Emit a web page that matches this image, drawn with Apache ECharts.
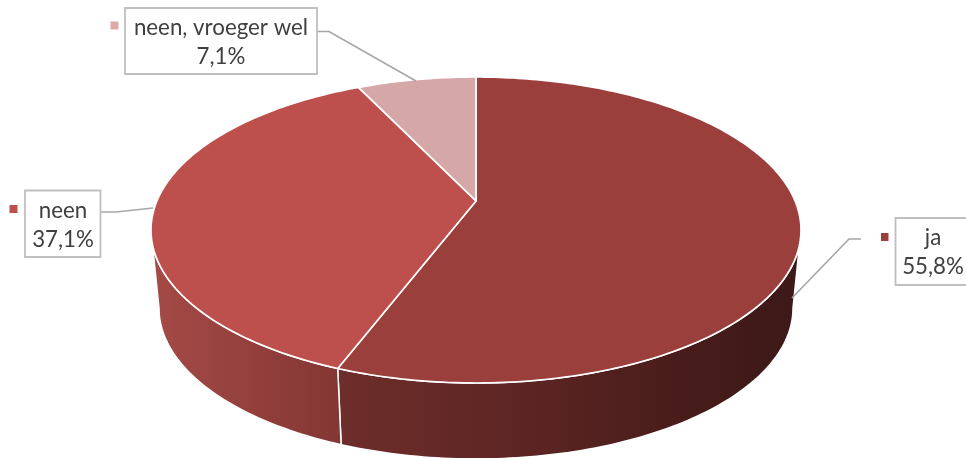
<!DOCTYPE html>
<html>
<head>
<meta charset="utf-8">
<style>html,body{margin:0;padding:0;background:#fff}#c{width:966px;height:458px}</style>
<script src="https://cdn.jsdelivr.net/npm/echarts@6/dist/echarts.min.js"></script>
</head>
<body>
<div id="c"></div>
<script>
const categories = ['ja', 'neen', 'neen, vroeger wel'];
const percentages = [55.8, 37.1, 7.1];

const topColors = ['#9b3f3c', '#bd4f4c', '#d6a7a7'];
const wallStops = [
  [[0, '#6e2e2b'], [0.45, '#5a2422'], [0.75, '#471c1a'], [1, '#3c1917']],
  [[0, '#a54a47'], [1, '#833633']]
];
const keyColors = ['#9b3f3c', '#bd4f4c', '#dea9a9'];

// projected geometry of the tilted disc
const TOP = {cx: 476, cy: 230, rx: 325, ry: 153};
const BASE = {cx: 476, cy: 308, rx: 317, ry: 151};
const TILT = 0.19;

const layout = [
  {box: [895.5, 218, 80, 67], key: [881, 233, 7.5, 8], line: [[861, 239], [849, 239], [792, 298]], tx: 933, ty: [238, 267]},
  {box: [25, 190.5, 75.5, 66.5], key: [9.5, 205, 8, 8], line: [[100.5, 212], [116, 212], [153, 208]], tx: 63, ty: [211, 240]},
  {box: [125, 8, 192, 66], key: [110.5, 21.5, 8, 8], line: [[317, 31.5], [329, 31.5], [416, 81]], tx: 221, ty: [28, 57]}
];

function project(deg, e) {
  const t = deg * Math.PI / 180;
  const x = Math.sin(t), y = Math.cos(t);
  const d = 1 + TILT * y;
  const px = x * Math.sqrt(1 - TILT * TILT) / d;
  const py = (y + TILT) / d;
  return [e.cx + px * e.rx, e.cy - py * e.ry];
}
function sliceRange(i) {
  let start = 0;
  for (let k = 0; k < i; k++) start += percentages[k];
  return [start * 3.6, (start + percentages[i]) * 3.6];
}
function samples(a, b) {
  const out = [], n = Math.max(2, Math.ceil(b - a));
  for (let k = 0; k <= n; k++) out.push(a + (b - a) * k / n);
  return out;
}
const frontA = Math.acos(-TILT) * 180 / Math.PI;
const frontB = 360 - frontA;

const seriesData = categories.map((c, i) => ({name: c, value: [i, percentages[i]]}));

const option = {
  animation: false,
  backgroundColor: '#fff',
  series: [
    {
      type: 'custom', name: 'wall', coordinateSystem: 'none', silent: true, z: 1,
      data: seriesData,
      renderItem: function (params, api) {
        const i = api.value(0);
        const [s, e] = sliceRange(i);
        const a = Math.max(s, frontA), b = Math.min(e, frontB);
        if (a >= b) return {type: 'group', children: []};
        const angles = samples(a, b);
        const pts = angles.map(d => project(d, TOP)).concat(angles.slice().reverse().map(d => project(d, BASE)));
        const stops = wallStops[i].map(p => ({offset: p[0], color: p[1]}));
        return {
          type: 'polygon',
          shape: {points: pts},
          style: {
            fill: new echarts.graphic.LinearGradient(0, 0, 1, 0, stops),
            stroke: '#ffffff', lineWidth: 1.5, lineJoin: 'round'
          }
        };
      }
    },
    {
      type: 'custom', name: 'top', coordinateSystem: 'none', silent: true, z: 2,
      data: seriesData,
      renderItem: function (params, api) {
        const i = api.value(0);
        const [s, e] = sliceRange(i);
        const apex = [TOP.cx, TOP.cy - TILT * TOP.ry];
        const pts = [apex].concat(samples(s, e).map(d => project(d, TOP)));
        return {
          type: 'polygon',
          shape: {points: pts},
          style: {fill: topColors[i], stroke: '#ffffff', lineWidth: 1.7, lineJoin: 'round'}
        };
      }
    },
    {
      type: 'custom', name: 'labels', coordinateSystem: 'none', silent: true, z: 3,
      data: seriesData,
      renderItem: function (params, api) {
        const i = api.value(0);
        const l = layout[i];
        const pct = percentages[i].toFixed(1).replace('.', ',') + '%';
        const font = '22.3px Lato, Carlito, "Open Sans", sans-serif';
        const txt = (s, y) => ({
          type: 'text',
          style: {text: s, x: l.tx, y: y, font: font, fill: '#404040', align: 'center', verticalAlign: 'middle'}
        });
        return {
          type: 'group',
          children: [
            {type: 'polyline', shape: {points: l.line}, style: {fill: 'none', stroke: '#a6a6a6', lineWidth: 1.6}},
            {type: 'rect', shape: {x: l.box[0], y: l.box[1], width: l.box[2], height: l.box[3]},
              style: {fill: '#fff', stroke: '#bfbfbf', lineWidth: 1.8}},
            {type: 'rect', shape: {x: l.key[0], y: l.key[1], width: l.key[2], height: l.key[3]},
              style: {fill: keyColors[i]}},
            txt(categories[i], l.ty[0]),
            txt(pct, l.ty[1])
          ]
        };
      }
    }
  ]
};
const chart = echarts.init(document.getElementById('c'), null, {renderer: 'canvas'});
chart.setOption(option);
</script>
</body>
</html>
